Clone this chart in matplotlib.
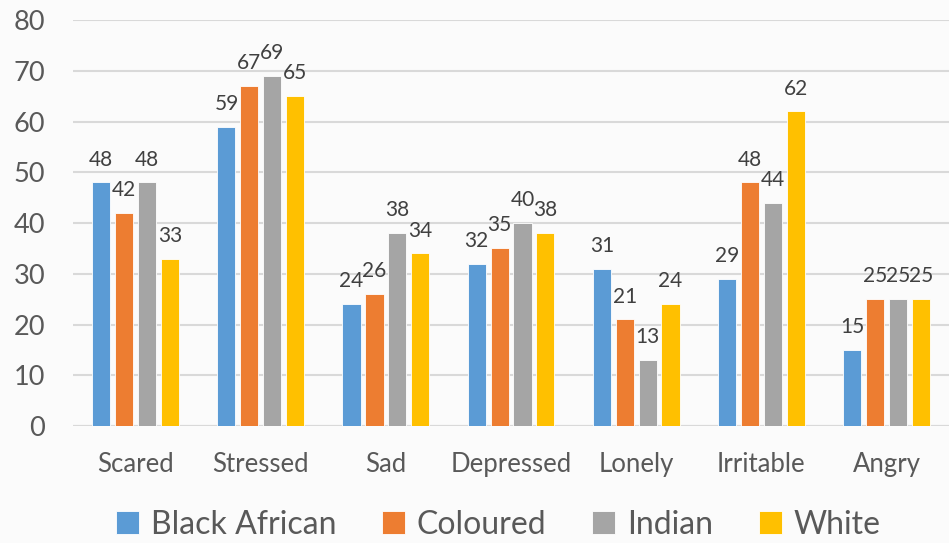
import matplotlib
matplotlib.use("Agg")
import matplotlib.pyplot as plt
import numpy as np

categories = ["Scared", "Stressed", "Sad", "Depressed", "Lonely", "Irritable", "Angry"]
series_names = ["Black African", "Coloured", "Indian", "White"]
black_african = [48, 59, 24, 32, 31, 29, 15]
coloured = [42, 67, 26, 35, 21, 48, 25]
indian = [48, 69, 38, 40, 13, 44, 25]
white = [33, 65, 34, 38, 24, 62, 25]
y_ticks = [0, 10, 20, 30, 40, 50, 60, 70, 80]

colors = ["#5B9BD5", "#ED7D31", "#A5A5A5", "#FFC000"]
text_color = "#595959"
grid_color = "#D9D9D9"
bg = "#FBFBFB"

plt.rcParams["font.family"] = ["Lato", "DejaVu Sans"]

fig = plt.figure(figsize=(9.49, 5.43), dpi=100, facecolor=bg)
ax = fig.add_axes([0.077, 0.2155, 0.923, 0.7475], facecolor=bg)

x = np.arange(len(categories))
pitch = 0.183
width = 0.145
all_series = [black_african, coloured, indian, white]
for i, (name, vals, col) in enumerate(zip(series_names, all_series, colors)):
    pos = x + (i - 1.5) * pitch
    ax.bar(pos, vals, width=width, color=col, label=name, zorder=3,
           edgecolor="white", linewidth=0.6)
    for xp, v in zip(pos, vals):
        ax.annotate(f"{v}", (xp, v), xytext=(0, 16.5), textcoords="offset points",
                    ha="center", va="center", fontsize=15, color="#404040", zorder=4)

ax.set_xlim(-0.5, len(categories) - 0.5)
ax.set_ylim(0, 80)
ax.set_yticks(y_ticks)
ax.set_yticklabels([str(t) for t in y_ticks])
ax.set_xticks(x)
ax.set_xticklabels(categories)
ax.tick_params(axis="y", length=0, pad=20, labelsize=19.5, labelcolor=text_color)
ax.tick_params(axis="x", length=0, pad=18.5, labelsize=18.5, labelcolor=text_color)
ax.grid(axis="y", color=grid_color, linewidth=1.5, zorder=0)
ax.set_axisbelow(True)
for s in ax.spines.values():
    s.set_visible(False)
ax.axhline(0, color=grid_color, linewidth=1.5, zorder=2)

fig.legend(loc="lower center", bbox_to_anchor=(0.525, -0.047), ncol=4, frameon=False,
           fontsize=23, handlelength=0.72, handleheight=0.72, handletextpad=0.35,
           columnspacing=1.45, labelcolor=text_color)

fig.savefig("out.png", dpi=100, facecolor=bg)
